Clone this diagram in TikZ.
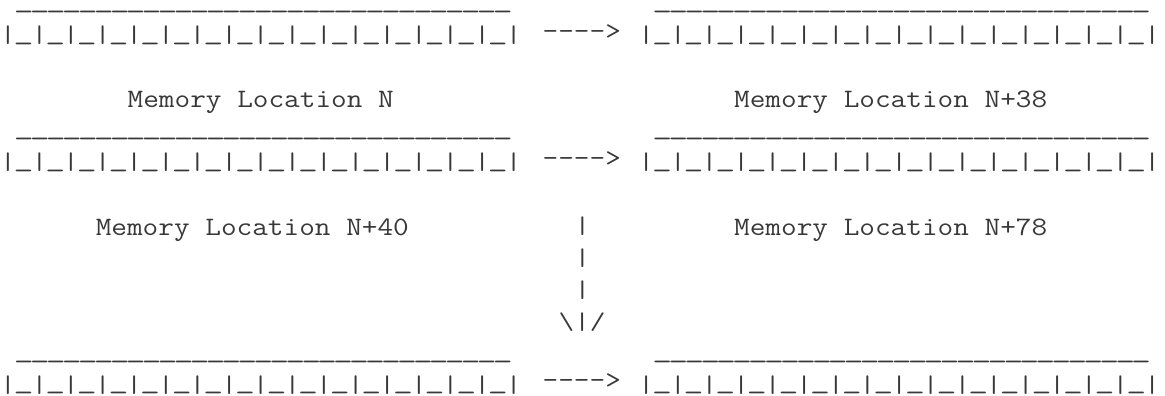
\documentclass[tikz,border=0pt]{standalone}
% Typewriter text, stretched so one character is 15.96pt wide
\newcommand\asciifont{\ttfamily\fontsize{26.6}{32}\selectfont}
\newcommand\ascii[1]{\scalebox{1.1429}[1]{\asciifont #1}}
% Full-width underscore (its stroke sits 4.4pt below the baseline)
\newcommand\us{\makebox[0.525em]{\scalebox{1.27}[1]{\char95}}}
% Short strokes: squash a tall glyph to 18.5pt and drop its foot to the underscore
\newcommand\squash[1]{\raisebox{-3.3pt}{\scalebox{1}[0.9024]{#1}}}
\newcommand\vb{\squash{|}}
% Pieces of the memory-row drawing
\newcommand\topline{\smash{\foreach\i in {1,...,31}{\us}}}
\newcommand\cellrow{\vb\foreach\i in {1,...,16}{\us\vb}}
\newcommand\rarrow{-\kern0pt-\kern0pt-\kern0pt-\kern0pt>}
\tikzset{
  txt/.style={anchor=base west, inner sep=0pt, outer sep=0pt, text=black!78},
}
\begin{document}
\begin{tikzpicture}[x=1pt,y=-1pt]
\useasboundingbox (0,0) rectangle (1165,396);
% first row: locations N and N+38
\node[txt] (topA)  at (15.96, 7.3)   {\ascii{\topline}};
\node[txt] (topA2) at (654.36, 7.3)  {\ascii{\topline}};
\node[txt] (memA)  at (0, 39.2)      {\ascii{\cellrow}};
\node[txt] (arrA)  at (542.64, 39.2) {\ascii{\rarrow}};
\node[txt] (memA2) at (638.4, 39.2)  {\ascii{\cellrow}};
\node[txt] (labA)  at (127.68, 107.5) {\ascii{Memory Location N}};
\node[txt] (labA2) at (734.16, 107.5) {\ascii{Memory Location N+38}};
% second row: locations N+40 and N+78
\node[txt] (topB)  at (15.96, 134.8)  {\ascii{\topline}};
\node[txt] (topB2) at (654.36, 134.8) {\ascii{\topline}};
\node[txt] (memB)  at (0, 166.6)      {\ascii{\cellrow}};
\node[txt] (arrB)  at (542.64, 166.6) {\ascii{\rarrow}};
\node[txt] (memB2) at (638.4, 166.6)  {\ascii{\cellrow}};
\node[txt] (labB)  at (95.76, 235.0)  {\ascii{Memory Location N+40}};
\node[txt] (labB2) at (734.16, 235.0) {\ascii{Memory Location N+78}};
% downward arrow between the rows
\node[txt] (dn1) at (574.56, 230.4) {\ascii{\vb}};
\node[txt] (dn2) at (574.56, 262.3) {\ascii{\vb}};
\node[txt] (dn3) at (574.56, 294.1) {\ascii{\vb}};
\node[txt] (dn4) at (558.6, 326.0)  {\ascii{\squash{\textbackslash}\vb\squash{/}}};
% third row
\node[txt] (topC)  at (15.96, 357.9)  {\ascii{\topline}};
\node[txt] (topC2) at (654.36, 357.9) {\ascii{\topline}};
\node[txt] (memC)  at (0, 388.9)      {\ascii{\cellrow}};
\node[txt] (arrC)  at (542.64, 388.9) {\ascii{\rarrow}};
\node[txt] (memC2) at (638.4, 388.9)  {\ascii{\cellrow}};
\end{tikzpicture}
\end{document}
